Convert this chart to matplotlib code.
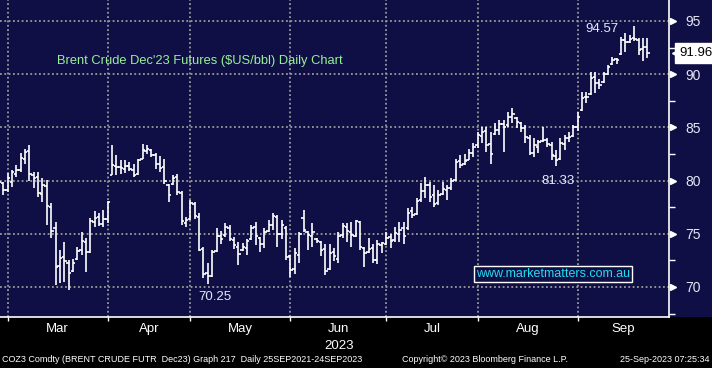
import numpy as np
import pandas as pd
import matplotlib
matplotlib.use("Agg")
import matplotlib.pyplot as plt
import matplotlib.transforms as mtransforms
from matplotlib import font_manager
from matplotlib.patches import Rectangle
from matplotlib.ticker import FixedLocator

# trading days shown on the chart (ICE closed on Good Friday)
dates = pd.bdate_range("2023-02-24", "2023-09-22").drop(pd.Timestamp("2023-04-07"))

opens = [78.5, 79.8, 79.1,
         79.9, 80.6, 81.0, 82.0, 82.8, 80.5, 80.3, 78.7, 79.5, 77.5, 75.5, 72.0, 72.8, 72.3, 71.5, 72.6, 73.5, 74.2, 73.3, 76.1, 76.6, 75.9, 76.4,
         80.5, 81.4, 81.3, 81.1, 81.4, 81.0, 80.6, 82.0, 82.8, 82.9, 82.4, 81.6, 81.3, 79.6, 79.7, 80.3, 78.8, 76.0, 76.4,
         77.8, 76.6, 73.6, 71.3, 71.0, 73.4, 74.8, 74.9, 75.5, 74.4, 73.8, 73.5, 73.7, 74.5, 75.6, 74.6, 74.0, 75.3, 75.8, 76.6, 75.0, 75.5, 72.9,
         71.7, 73.0, 76.5, 75.2, 74.8, 74.5, 74.2, 73.6, 71.7, 73.3, 72.6, 74.9, 75.6, 75.2, 74.8, 76.1, 73.7, 73.3, 73.7, 72.5, 73.9, 74.0,
         74.7, 74.4, 75.0, 75.5, 75.5, 77.1, 76.9, 78.2, 79.0, 79.6, 78.6, 77.9, 78.7, 79.1, 79.3, 80.1, 81.8, 81.6, 81.9, 82.6, 83.3,
         84.2, 84.7, 83.4, 84.4, 84.8, 85.3, 85.2, 86.0, 85.9, 85.4, 84.9, 84.0, 82.6, 83.2, 83.7, 83.8, 83.3, 82.3, 82.0, 83.4, 84.0, 84.2, 85.0,
         86.6, 87.9, 88.1, 89.7, 89.2, 89.3, 90.0, 91.0, 91.4, 91.9, 93.2, 93.0, 93.4, 93.2, 92.4, 92.6]
highs = [80.3, 79.9, 80.7,
         81.0, 81.5, 82.6, 83.0, 83.3, 80.8, 80.8, 80.2, 80.1, 77.9, 76.1, 73.5, 74.2, 72.5, 72.6, 73.8, 75.2, 74.6, 76.5, 77.1, 77.0, 77.2, 78.1,
         83.3, 82.4, 81.9, 81.9, 81.7, 81.6, 82.0, 83.4, 83.3, 83.0, 82.6, 82.3, 82.0, 79.7, 80.5, 80.6, 79.0, 76.6, 78.2,
         78.0, 77.0, 73.8, 72.3, 73.5, 75.5, 75.3, 76.0, 75.8, 74.7, 74.2, 74.1, 74.5, 75.8, 76.1, 74.7, 75.5, 76.3, 77.0, 76.8, 76.3, 75.7, 73.0,
         73.7, 75.2, 77.2, 75.3, 76.0, 74.6, 74.3, 74.0, 74.0, 73.7, 75.2, 76.0, 76.0, 76.1, 76.3, 76.2, 73.8, 74.6, 74.0, 74.4, 74.2, 75.2,
         75.0, 75.6, 76.1, 76.1, 77.4, 77.5, 78.4, 79.8, 80.3, 79.9, 79.6, 79.1, 79.9, 79.6, 80.2, 82.0, 82.4, 82.5, 83.0, 83.5, 84.6,
         85.0, 85.0, 84.6, 85.4, 85.7, 85.7, 86.4, 86.8, 86.0, 85.5, 85.2, 84.3, 84.0, 83.8, 85.0, 84.0, 83.6, 82.9, 84.0, 84.3, 84.6, 85.2, 86.4,
         88.3, 88.3, 90.2, 90.2, 89.5, 90.2, 90.9, 91.6, 91.5, 93.5, 93.9, 93.7, 94.57, 93.4, 93.4, 93.4]
lows = [78.0, 78.6, 78.9,
        79.4, 80.3, 80.8, 81.6, 80.0, 79.3, 78.5, 78.0, 75.8, 74.6, 70.2, 70.4, 70.5, 69.75, 71.4, 72.5, 73.0, 71.4, 73.2, 75.6, 75.7, 75.6, 76.0,
        80.5, 80.5, 80.6, 80.7, 80.9, 80.3, 80.5, 82.0, 82.5, 82.2, 81.1, 80.8, 79.7, 78.0, 79.6, 78.6, 75.8, 75.6, 76.3,
        76.4, 73.4, 70.8, 70.25, 70.9, 73.3, 74.0, 74.7, 74.3, 73.6, 72.1, 73.4, 73.0, 74.4, 73.9, 73.3, 73.7, 75.2, 75.4, 73.8, 74.5, 72.5, 70.9,
        71.2, 72.3, 75.2, 73.5, 73.8, 74.1, 72.9, 71.1, 71.6, 72.4, 72.3, 74.6, 74.2, 73.8, 74.7, 73.5, 71.9, 73.2, 72.3, 72.2, 73.2, 73.9,
        73.7, 74.2, 74.2, 74.0, 75.4, 76.5, 76.8, 78.0, 78.4, 78.0, 77.5, 77.7, 78.6, 78.2, 79.1, 80.0, 81.2, 81.5, 81.9, 82.2, 83.1,
        83.5, 82.7, 81.6, 84.3, 84.3, 82.7, 85.0, 85.4, 84.9, 84.6, 83.5, 82.4, 82.2, 82.6, 83.6, 83.2, 81.9, 81.33, 81.9, 82.9, 83.6, 84.1, 84.7,
        86.5, 87.3, 88.0, 88.2, 88.6, 89.2, 89.9, 90.9, 91.0, 91.8, 92.1, 92.9, 93.1, 91.8, 91.2, 91.5]
closes = [79.9, 79.1, 80.2,
          80.8, 81.0, 82.1, 82.7, 80.6, 80.2, 78.8, 79.6, 77.6, 75.3, 71.9, 72.7, 72.4, 71.3, 72.3, 73.4, 74.3, 73.3, 76.2, 76.5, 75.9, 76.4, 78.0,
          81.5, 81.3, 81.2, 81.4, 81.1, 80.5, 81.9, 82.9, 83.0, 82.4, 81.6, 81.2, 80.0, 78.6, 80.2, 78.9, 76.2, 76.3, 77.9,
          76.7, 73.5, 71.2, 71.0, 73.3, 74.8, 74.5, 75.6, 74.5, 73.9, 73.1, 73.8, 74.3, 75.5, 74.8, 74.0, 75.2, 75.8, 76.7, 75.0, 75.8, 72.8, 71.6,
          73.2, 75.0, 75.4, 74.9, 75.2, 74.3, 73.5, 71.5, 73.2, 72.9, 74.8, 75.7, 75.3, 74.9, 76.2, 73.8, 73.2, 73.6, 72.5, 74.0, 74.1, 74.6,
          74.3, 75.1, 75.4, 74.8, 77.0, 76.8, 78.1, 79.0, 79.6, 78.5, 77.8, 78.6, 79.2, 79.3, 80.0, 81.7, 81.5, 81.8, 82.6, 83.2, 84.3,
          84.6, 83.3, 82.5, 84.8, 85.3, 85.0, 86.0, 86.3, 85.5, 84.9, 84.1, 82.6, 83.3, 83.6, 83.8, 83.4, 82.4, 81.9, 83.5, 84.0, 84.1, 85.0, 86.0,
          87.8, 87.9, 89.6, 89.2, 89.0, 90.0, 90.7, 91.3, 91.3, 93.2, 93.0, 93.3, 93.3, 92.3, 92.6, 91.96]

months = ["Mar", "Apr", "May", "Jun", "Jul", "Aug", "Sep"]
price_ticks = [70, 75, 80, 85, 90, 95]
title = "Brent Crude Dec'23 Futures ($US/bbl) Daily Chart"
website = "www.marketmatters.com.au"
footer_left = "COZ3 Comdty (BRENT CRUDE FUTR  Dec23) Graph 217  Daily 25SEP2021-24SEP2023"
footer_mid = "Copyright\u00a9 2023 Bloomberg Finance L.P."
footer_right = "25-Sep-2023 07:25:34"

navy = "#100f45"
names = {f.name for f in font_manager.fontManager.ttflist}
narrow = "Liberation Sans Narrow" if "Liberation Sans Narrow" in names else "Liberation Sans"
arial = "Liberation Sans"

o = np.array(opens); h = np.array(highs); l = np.array(lows); c = np.array(closes)
x = np.arange(len(dates))
mon = np.asarray(dates.month)

fig = plt.figure(figsize=(7.12, 3.68), dpi=100, facecolor="black")
fig.add_artist(Rectangle((0.9396, 0.1386), 0.0604, 0.8614, transform=fig.transFigure,
                         facecolor=navy, edgecolor="none", zorder=0))
ax = fig.add_axes([0, 0.1386, 0.9396, 0.8614], facecolor=navy)

# OHLC bars
ax.vlines(x, l, h, color="white", lw=1.2, zorder=3)
ax.hlines(o, x - 0.55, x, color="white", lw=1.2, zorder=3)
ax.hlines(c, x, x + 0.55, color="white", lw=1.2, zorder=3)

ax.set_xlim(0.24, 154)
ax.set_ylim(67.18, 96.97)

# month boundaries: last trading day of previous month
month_start = [i for i in range(1, len(dates)) if mon[i] != mon[i - 1]]
grid_x = [i - 1 for i in month_start]
mids = [(a + b) / 2 for a, b in zip(grid_x, grid_x[1:] + [ax.get_xlim()[1]])]

ax.set_xticks(grid_x)
ax.set_xticklabels([])
ax.xaxis.set_minor_locator(FixedLocator(mids))
ax.set_xticklabels(months, minor=True)
ax.tick_params(axis="x", which="major", direction="out", length=3, width=1, color="white")
ax.tick_params(axis="x", which="minor", length=0, pad=4, labelsize=9.5, labelcolor="white")
for t in ax.get_xticklabels(minor=True):
    t.set_family(narrow)

ax.set_yticks(price_ticks)
ax.yaxis.set_minor_locator(FixedLocator([67.5, 72.5, 77.5, 82.5, 87.5, 92.5]))
ax.tick_params(axis="y", which="major", left=False, right=False, labelleft=False,
               labelright=True, pad=8, labelsize=10, labelcolor="#e4e4f4")
ax.tick_params(axis="y", which="minor", left=False, right=True, direction="out",
               length=4, width=1, color="white")
for t in ax.get_yticklabels():
    t.set_family(arial)

trans = mtransforms.blended_transform_factory(ax.transAxes, ax.transData)
ax.plot([1.006] * len(price_ticks), price_ticks, ls="none", marker=">", ms=5,
        color="white", transform=trans, clip_on=False)

ax.grid(True, which="major", color="#9a9a9a", linestyle=(0, (1, 1.4)), linewidth=1.3, zorder=1)
for s in ["top", "left"]:
    ax.spines[s].set_visible(False)
for s in ["bottom", "right"]:
    ax.spines[s].set_color("white")
    ax.spines[s].set_linewidth(1.2)

# year under June
fig.text(mids[3] / 154 * 0.9396, 1 - 346 / 368, "2023", color="white", fontsize=9.5,
         family=narrow, ha="center", va="center")

# annotations
lab = dict(color="#e6e6ff", fontsize=9.5, family=arial, ha="center", va="center",
           textcoords="offset pixels")
imax = int(np.argmax(h))
ax.annotate(f"{h[imax]:.2f}", xy=(imax, h[imax]), xytext=(-32, -3), **lab)
i_aug = int(np.argmin(np.where(mon == 8, l, 999)))
ax.annotate(f"{l[i_aug]:.2f}", xy=(i_aug, l[i_aug]), xytext=(2, -15), **lab)
i_may = int(np.argmin(np.where(mon == 5, l, 999)))
ax.annotate(f"{l[i_may]:.2f}", xy=(i_may, l[i_may]), xytext=(7, -13), **lab)

# last price flag
ax.annotate(f"{c[-1]:.2f}", xy=(1, c[-1]), xycoords=trans, xytext=(27, 0),
            textcoords="offset pixels", ha="center", va="center", fontsize=9.5,
            family=arial, color="black", annotation_clip=False,
            bbox=dict(boxstyle="square,pad=0.3", facecolor="white", edgecolor="white"))
ax.plot([1.01], [c[-1]], marker="<", ms=6, color="white", transform=trans, clip_on=False)

fig.text(57 / 712, 1 - 61 / 368, title, color="#96f096", fontsize=9.3, family=arial,
         ha="left", va="center")
fig.text(553 / 712, 1 - 274 / 368, website, color="#22dcf0", fontsize=9, family=arial,
         ha="center", va="center",
         bbox=dict(boxstyle="square,pad=0.15", facecolor=navy, edgecolor="white", lw=1))

fsize = 7.5 if narrow != arial else 6.5
fig.text(2 / 712, 1 - 360 / 368, footer_left, color="white", fontsize=fsize, family=narrow,
         ha="left", va="center")
fig.text(402 / 712, 1 - 360 / 368, footer_mid, color="white", fontsize=fsize, family=narrow,
         ha="left", va="center")
fig.text(710 / 712, 1 - 360 / 368, footer_right, color="white", fontsize=fsize, family=narrow,
         ha="right", va="center")

fig.savefig("out.png", dpi=100, facecolor=fig.get_facecolor())
